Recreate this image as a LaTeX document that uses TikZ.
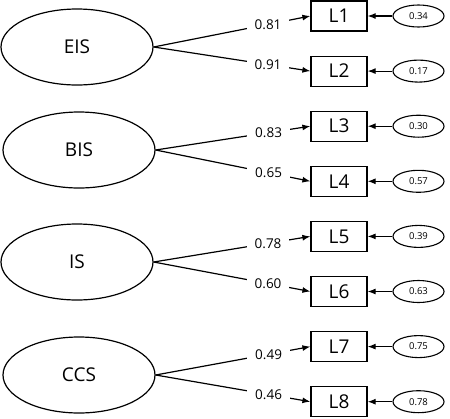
\documentclass[tikz,border=0pt]{standalone}
\usepackage{fontspec}
\setmainfont{Open Sans}
\usetikzlibrary{shapes.geometric,arrows.meta}
\begin{document}
\begin{tikzpicture}[x=1pt,y=-1pt,
  latent/.style={draw,ellipse,line width=1.2pt,minimum width=152pt,minimum height=76pt,inner sep=0pt,font=\fontsize{19}{21}\selectfont},
  obs/.style={draw,rectangle,line width=1.2pt,minimum width=56pt,minimum height=30pt,inner sep=0pt,font=\fontsize{19}{21}\selectfont},
  err/.style={draw,ellipse,line width=1.1pt,minimum width=51pt,minimum height=22pt,inner sep=0pt,font=\fontsize{9.5}{10}\selectfont},
  lab/.style={fill=white,inner xsep=8pt,inner ysep=5pt,font=\fontsize{13.5}{15}\selectfont},
  arr/.style={line width=1.2pt,-{Latex[length=8pt,width=6pt]}}]
\useasboundingbox (0,0) rectangle (450,418);
\node[latent] (EIS) at (77,47) {EIS};
\node[latent] (BIS) at (79,150) {BIS};
\node[latent] (IS) at (77,262) {IS};
\node[latent] (CCS) at (79,375) {CCS};
\foreach \i/\y/\e in {1/16/0.34,2/71.1/0.17,3/126.2/0.30,4/181.3/0.57,5/236.4/0.39,6/291.5/0.63,7/346.6/0.75,8/401.7/0.78}{
  \node[obs] (L\i) at (339,\y) {L\i};
  \node[err] (E\i) at (418.5,\y) {\e};
  \draw[arr] (E\i.west) -- (L\i.east);
}
\draw[arr] (EIS.east) -- node[lab,pos=0.73]{0.81} (L1.west);
\draw[arr] (EIS.east) -- node[lab,pos=0.73]{0.91} (L2.west);
\draw[arr] (BIS.east) -- node[lab,pos=0.73]{0.83} (L3.west);
\draw[arr] (BIS.east) -- node[lab,pos=0.73]{0.65} (L4.west);
\draw[arr] (IS.east) -- node[lab,pos=0.73]{0.78} (L5.west);
\draw[arr] (IS.east) -- node[lab,pos=0.73]{0.60} (L6.west);
\draw[arr] (CCS.east) -- node[lab,pos=0.73]{0.49} (L7.west);
\draw[arr] (CCS.east) -- node[lab,pos=0.73]{0.46} (L8.west);
\end{tikzpicture}
\end{document}
